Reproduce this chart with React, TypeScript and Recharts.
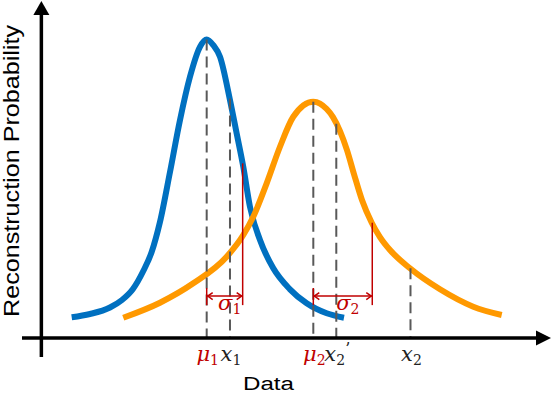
import { ComposedChart, Line, XAxis, YAxis, ReferenceLine } from "recharts";

// blue curve (narrow)
const blueX = [5.95, 9.54, 13.46, 15.82, 17.97, 20.0, 21.64, 23.27, 25.24, 27.2, 29.16, 31.12, 32.44, 33.73, 35.05, 37.01, 38.32, 39.62, 40.93, 42.9, 45.51, 48.78, 52.06, 55.99, 59.38];
const blueY = [6.93, 8.03, 10.2, 12.7, 16.37, 22.37, 28.7, 38.7, 55.37, 72.7, 87.13, 97.13, 99.6, 97.7, 93.8, 79.37, 68.27, 57.13, 43.8, 32.7, 23.27, 16.27, 11.6, 8.27, 6.8];

// orange curve (wide)
const orangeX = [16.07, 23.27, 29.81, 36.36, 39.62, 41.58, 44.21, 46.82, 49.43, 53.36, 54.67, 55.99, 57.22, 58.6, 59.97, 61.34, 62.91, 64.82, 66.44, 68.41, 72.33, 78.22, 84.75, 90.33];
const orangeY = [6.8, 11.8, 18.27, 27.13, 34.37, 40.47, 51.6, 63.8, 73.8, 78.8, 78.2, 76.37, 73.7, 69.03, 62.7, 54.7, 46.03, 38.47, 33.7, 29.37, 23.27, 16.27, 10.47, 7.7];

// dashed markers on the data axis
const markerX = [32.44, 37.01, 53.36, 57.87, 72.43];
const markerTop = [99.6, 79.93, 78.8, 71.5, 23.27];
const tickBase = ["μ", "x", "μ", "x", "x"];
const tickSub = ["1", "1", "2", "2", "2"];
const tickPrime = ["", "", "", "’", ""];
const tickRed = [true, false, true, false, false];

// sigma brackets
const sigmaFrom = [32.44, 53.36];
const sigmaTo = [39.5, 64.93];
const sigmaTop = [58.27, 38.47];
const sigmaSub = ["1", "2"];
const sigmaArrowY = 14;
const sigmaBottom = 11;
const sigmaTickTop = 16.7;

const blueData = blueX.map((x, i) => ({ x, y: blueY[i] }));
const orangeData = orangeX.map((x, i) => ({ x, y: orangeY[i] }));

const RED = "#C00000";
const DASH = "#595959";
const MATH_FONT = "DejaVu Serif";

const XAxisArrow = (p: any) => {
  const a = Math.min(p.x1, p.x2);
  const b = Math.max(p.x1, p.x2);
  const y = p.y1;
  return (
    <g>
      <line x1={a} y1={y} x2={b - 14} y2={y} stroke="#000" strokeWidth={3.5} />
      <polygon points={`${b},${y} ${b - 15},${y - 7.5} ${b - 15},${y + 7.5}`} fill="#000" />
    </g>
  );
};

const YAxisArrow = (p: any) => {
  const top = Math.min(p.y1, p.y2);
  const bottom = Math.max(p.y1, p.y2);
  const x = p.x1;
  return (
    <g>
      <line x1={x} y1={bottom} x2={x} y2={top + 13} stroke="#000" strokeWidth={3.5} />
      <polygon points={`${x},${top} ${x - 8},${top + 14} ${x + 8},${top + 14}`} fill="#000" />
    </g>
  );
};

const sigmaShape = (sub: string) => (p: any) => {
  const a = Math.min(p.x1, p.x2);
  const b = Math.max(p.x1, p.x2);
  const y = p.y1;
  return (
    <g>
      <line x1={a} y1={y} x2={b} y2={y} stroke={RED} strokeWidth={1.5} />
      <polyline points={`${a + 6},${y - 3.5} ${a + 1},${y} ${a + 6},${y + 3.5}`} fill="none" stroke={RED} strokeWidth={1.5} />
      <polyline points={`${b - 6},${y - 3.5} ${b - 1},${y} ${b - 6},${y + 3.5}`} fill="none" stroke={RED} strokeWidth={1.5} />
      <text x={(a + b) / 2 + 5} y={y + 14} textAnchor="middle" fill={RED} fontFamily={MATH_FONT} fontSize={21}>
        <tspan fontStyle="italic">σ</tspan>
        <tspan fontSize={14} dy={4}>{sub}</tspan>
      </text>
    </g>
  );
};

const MathTick = (props: any) => {
  const { x, y, payload } = props;
  const i = markerX.indexOf(payload.value);
  if (i < 0) return null;
  return (
    <text x={x + 1} y={y + 4} textAnchor="middle" fontFamily={MATH_FONT} fontSize={21} fill={tickRed[i] ? RED : "#222"}>
      <tspan fontStyle="italic">{tickBase[i]}</tspan>
      <tspan fontSize={14} dy={4}>{tickSub[i]}</tspan>
      {tickPrime[i] ? <tspan fontSize={16} dy={-11}>{tickPrime[i]}</tspan> : null}
    </text>
  );
};

const DataLabel = () => (
  <text x={243} y={390} fontFamily="Liberation Sans" fontSize={18} textLength={51} lengthAdjust="spacingAndGlyphs" fill="#000">
    Data
  </text>
);

const ProbLabel = () => (
  <text
    x={19.3}
    y={171}
    transform="rotate(-90, 19.3, 171)"
    textAnchor="middle"
    fontFamily="Liberation Sans"
    fontSize={22}
    textLength={292}
    lengthAdjust="spacingAndGlyphs"
    fill="#000"
  >
    Reconstruction Probability
  </text>
);

export default function App() {
  return (
    <div style={{ position: "absolute", left: 0, top: 0, background: "#fff" }}>
      <ComposedChart width={552} height={394} margin={{ top: 1, right: 1, left: 0, bottom: 7 }}>
        <XAxis
          dataKey="x"
          type="number"
          domain={[-3.8, 100]}
          ticks={markerX}
          interval={0}
          axisLine={false}
          tickLine={false}
          tickSize={0}
          tickMargin={0}
          height={30}
          tick={<MathTick />}
          label={{ content: DataLabel }}
          allowDataOverflow
        />
        <YAxis
          type="number"
          domain={[-6.3, 112.4]}
          width={22}
          axisLine={false}
          tickLine={false}
          tick={false}
          label={{ content: ProbLabel }}
          allowDataOverflow
        />
        <Line data={blueData} dataKey="y" type="monotone" stroke="#0070C0" strokeWidth={6} dot={false} activeDot={false} isAnimationActive={false} />
        <Line data={orangeData} dataKey="y" type="monotone" stroke="#FF9900" strokeWidth={6} dot={false} activeDot={false} isAnimationActive={false} />
        {markerX.map((x, i) => (
          <ReferenceLine
            key={`m${i}`}
            segment={[{ x, y: markerTop[i] }, { x, y: 0 }]}
            stroke={DASH}
            strokeWidth={2}
            strokeDasharray="11 6"
          />
        ))}
        {sigmaFrom.map((x, i) => (
          <ReferenceLine key={`st${i}`} segment={[{ x, y: sigmaTickTop }, { x, y: sigmaBottom }]} stroke={RED} strokeWidth={1.5} />
        ))}
        {sigmaTo.map((x, i) => (
          <ReferenceLine key={`sb${i}`} segment={[{ x, y: sigmaTop[i] }, { x, y: sigmaBottom }]} stroke={RED} strokeWidth={1.5} />
        ))}
        {sigmaFrom.map((x, i) => (
          <ReferenceLine
            key={`sa${i}`}
            segment={[{ x, y: sigmaArrowY }, { x: sigmaTo[i], y: sigmaArrowY }]}
            shape={sigmaShape(sigmaSub[i])}
          />
        ))}
        <ReferenceLine y={0} shape={XAxisArrow} />
        <ReferenceLine x={0} shape={YAxisArrow} />
      </ComposedChart>
    </div>
  );
}
